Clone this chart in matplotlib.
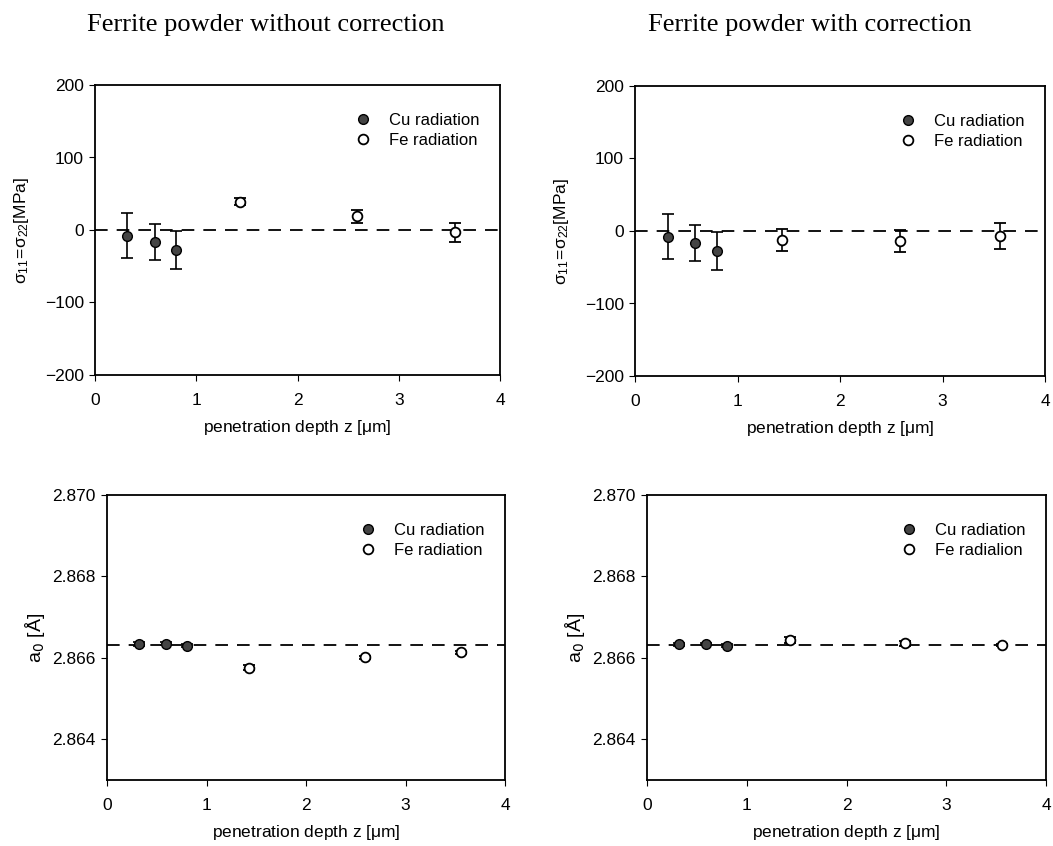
import matplotlib.pyplot as plt

plt.rcParams['font.family'] = ['Liberation Sans', 'DejaVu Sans']

# penetration depth z [um]
cu_z = [0.32, 0.59, 0.80]
fe_z = [1.43, 2.59, 3.56]

# stress without / with correction [MPa]
cu_s_raw = [-8, -17, -28]
cu_s_raw_err = [31, 25, 26]
fe_s_raw = [39, 19, -3]
fe_s_raw_err = [5, 9, 13]

cu_s_cor = [-8, -17, -28]
cu_s_cor_err = [31, 25, 26]
fe_s_cor = [-12, -14, -7]
fe_s_cor_err = [15, 15, 18]

# lattice parameter a0 [A]
cu_a_raw = [2.86634, 2.86635, 2.86630]
cu_a_raw_err = [0.00004, 0.00003, 0.00003]
fe_a_raw = [2.86576, 2.86601, 2.86614]
fe_a_raw_err = [0.00006, 0.00004, 0.00004]

cu_a_cor = [2.86633, 2.86634, 2.86630]
cu_a_cor_err = [0.00004, 0.00003, 0.00003]
fe_a_cor = [2.86644, 2.86636, 2.86632]
fe_a_cor_err = [0.00008, 0.00006, 0.00003]

ref_stress = 0
ref_a0 = 2.86632

titulos = ["Ferrite powder without correction", "Ferrite powder with correction"]
stress_ticks = [-200, -100, 0, 100, 200]
a0_ticks = [2.864, 2.866, 2.868, 2.870]


def dibujar(ax, cu_y, cu_e, fe_y, fe_e, ref, fe_label="Fe radiation"):
    ax.axhline(ref, color='black', lw=1.3, dashes=(7, 5), zorder=1)
    ax.errorbar(cu_z, cu_y, yerr=cu_e, fmt='o', ms=7, mfc='#444444', mec='black',
                ecolor='black', elinewidth=1.2, capsize=4, capthick=1.2, label="Cu radiation", zorder=3)
    ax.errorbar(fe_z, fe_y, yerr=fe_e, fmt='o', ms=7, mfc='white', mec='black', mew=1.3,
                ecolor='black', elinewidth=1.2, capsize=4, capthick=1.2, label=fe_label, zorder=3)
    ax.set_xlim(0, 4)
    ax.set_xticks([0, 1, 2, 3, 4])
    ax.set_xlabel(r"penetration depth z [$\mathregular{\mu}$m]", fontsize=12.5, labelpad=7)
    ax.tick_params(direction='out', length=4, labelsize=12.5, top=False, right=False)
    ax.tick_params(axis='x', pad=9)
    ax.tick_params(axis='y', pad=4)
    for s in ax.spines.values():
        s.set_linewidth(1.3)
    handles, labels = ax.get_legend_handles_labels()
    handles = [h[0] for h in handles]
    ax.legend(handles, labels, loc='upper right', bbox_to_anchor=(0.987, 0.955), frameon=False,
              fontsize=12, handletextpad=1.1, labelspacing=0.3, handlelength=1.0)


fig = plt.figure(figsize=(10.53, 8.46), dpi=100)
W, H = 1053, 846
ax1 = fig.add_axes([95 / W, 1 - 375 / H, 405 / W, 290 / H])
ax2 = fig.add_axes([635 / W, 1 - 376 / H, 410 / W, 290 / H])
ax3 = fig.add_axes([107 / W, 1 - 780 / H, 398 / W, 285 / H])
ax4 = fig.add_axes([647 / W, 1 - 780 / H, 399 / W, 285 / H])

dibujar(ax1, cu_s_raw, cu_s_raw_err, fe_s_raw, fe_s_raw_err, ref_stress)
dibujar(ax2, cu_s_cor, cu_s_cor_err, fe_s_cor, fe_s_cor_err, ref_stress)
dibujar(ax3, cu_a_raw, cu_a_raw_err, fe_a_raw, fe_a_raw_err, ref_a0)
dibujar(ax4, cu_a_cor, cu_a_cor_err, fe_a_cor, fe_a_cor_err, ref_a0, fe_label="Fe radialion")

for ax in (ax1, ax2):
    ax.set_ylim(-200, 200)
    ax.set_yticks(stress_ticks)
    ax.set_ylabel(r"$\mathregular{\sigma_{11}\!=\!\sigma_{22}}$[MPa]", fontsize=12.5, labelpad=10)

for ax in (ax3, ax4):
    ax.set_ylim(2.863, 2.870)
    ax.set_yticks(a0_ticks)
    ax.set_yticklabels([f"{t:.3f}" for t in a0_ticks])
    ax.set_ylabel(r"a$_0$ [Å]", fontsize=14, labelpad=4)

fig.text(266 / W, 1 - 25 / H, titulos[0], family='Liberation Serif', fontsize=19, ha='center', va='center')
fig.text(810 / W, 1 - 25 / H, titulos[1], family='Liberation Serif', fontsize=19, ha='center', va='center')

fig.savefig("out.png", dpi=100)
